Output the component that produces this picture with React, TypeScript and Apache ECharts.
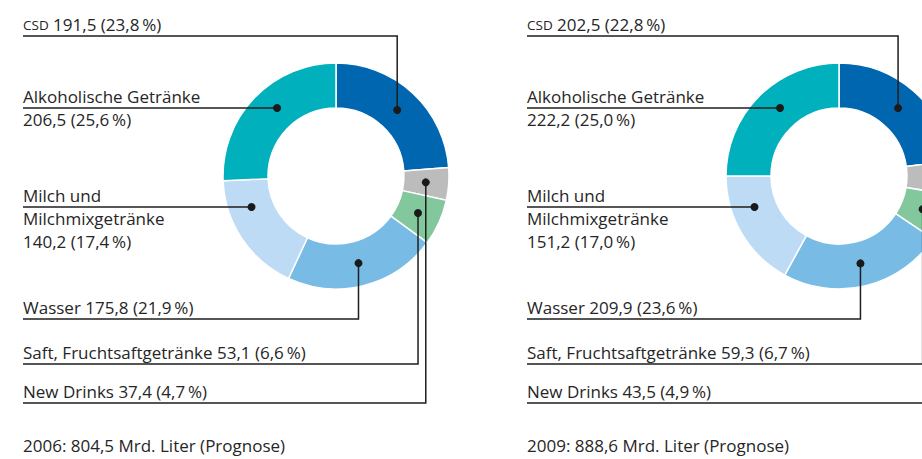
import React, { useEffect, useRef } from 'react';
import * as echarts from 'echarts';

// Slice order: clockwise from 12 o'clock
const categories = ['CSD', 'New Drinks', 'Saft, Fruchtsaftgetränke', 'Wasser', 'Milch und Milchmixgetränke', 'Alkoholische Getränke'];
const labelNames = ['{sc|CSD} ', 'New Drinks ', 'Saft, Fruchtsaftgetränke ', 'Wasser ', 'Milch und\nMilchmixgetränke\n', 'Alkoholische Getränke\n'];
const values2006 = [191.5, 37.4, 53.1, 175.8, 140.2, 206.5];
const percents2006 = [23.8, 4.7, 6.6, 21.9, 17.4, 25.6];
const values2009 = [202.5, 43.5, 59.3, 209.9, 151.2, 222.2];
const percents2009 = [22.8, 4.9, 6.7, 23.6, 17.0, 25.0];
const totals = ['2006: 804,5 Mrd. Liter (Prognose)', '2009: 888,6 Mrd. Liter (Prognose)'];
const colors = ['#0066b0', '#bcbcbc', '#82c89c', '#78bce6', '#bddbf4', '#00b0bd'];

// layout
const FONT = '"Open Sans", sans-serif';
const TEXT_COLOR = '#262626';
const LINE_COLOR = '#1e1e1e';
const rowY = [36, 403, 364, 319, 207, 108];
const centers: [number, number][] = [[336, 176], [839, 176]];
const textX = [23, 527];
const R0 = 68;
const R1 = 113;
const RDOT = 90;
const LINE_H = 23;
const FS = 17;

const fmt = (n: number) => n.toFixed(1).replace('.', ',');

function dotPos(vals: number[], idx: number, c: [number, number]) {
  const total = vals.reduce((a, b) => a + b, 0);
  let cum = 0;
  for (let i = 0; i < idx; i++) cum += vals[i];
  const theta = ((cum + vals[idx] / 2) / total) * Math.PI * 2;
  if (theta > Math.PI) {
    // left-hand slices: dot sits on the label's own row
    const dy = rowY[idx] - c[1];
    const dx = -Math.sqrt(Math.max(RDOT * RDOT - dy * dy, 0));
    return { x: c[0] + dx, y: rowY[idx], left: true };
  }
  return { x: c[0] + RDOT * Math.sin(theta), y: c[1] - RDOT * Math.cos(theta), left: false };
}

export default function App() {
  const ref = useRef<HTMLDivElement>(null);
  useEffect(() => {
    document.body.style.margin = '0';
    if (!ref.current) return;
    const chart = echarts.init(ref.current, undefined, { renderer: 'svg' });
    const sets = [
      { vals: values2006, pcts: percents2006 },
      { vals: values2009, pcts: percents2009 },
    ];
    const series = sets.map((s, si) => ({
      type: 'pie',
      center: centers[si],
      radius: [R0, R1],
      startAngle: 90,
      clockwise: true,
      avoidLabelOverlap: false,
      silent: true,
      itemStyle: { borderColor: '#ffffff', borderWidth: 1.5 },
      label: {
        show: true,
        position: 'outside',
        fontFamily: FONT,
        fontSize: FS,
        lineHeight: LINE_H,
        color: TEXT_COLOR,
        formatter: (p: any) => labelNames[p.dataIndex] + fmt(s.vals[p.dataIndex]) + ' (' + fmt(s.pcts[p.dataIndex]) + '\u2009%)',
        rich: {
          sc: { fontFamily: FONT, fontSize: 13.5, lineHeight: LINE_H, color: TEXT_COLOR },
        },
      },
      labelLine: { show: false },
      labelLayout: (p: any) => {
        const idx = p.dataIndex;
        const y = rowY[idx];
        return { x: textX[si], y: y - LINE_H, align: 'left', verticalAlign: 'top', hideOverlap: false };
      },
      data: categories.map((name, i) => ({ name, value: s.vals[i], itemStyle: { color: colors[i] } })),
    }));

    const guides: any[] = [];
    sets.forEach((s, si) => {
      s.vals.forEach((_, i) => {
        const d = dotPos(s.vals, i, centers[si]);
        const y = rowY[i];
        const pts = d.left
          ? [[d.x, d.y], [textX[si], y]]
          : [[d.x, d.y], [d.x, y], [textX[si], y]];
        guides.push({ type: 'polyline', z: 100, shape: { points: pts }, style: { stroke: LINE_COLOR, lineWidth: 1.5, fill: null } });
        guides.push({ type: 'circle', z: 101, shape: { cx: d.x, cy: d.y, r: 4 }, style: { fill: '#1a1a1a' } });
      });
    });

    chart.setOption({
      animation: false,
      title: totals.map((t, i) => ({
        text: t,
        left: textX[i],
        top: 437,
        padding: 0,
        textStyle: { fontFamily: FONT, fontSize: FS, fontWeight: 'normal', color: TEXT_COLOR },
      })),
      series,
      graphic: guides,
    });
    return () => chart.dispose();
  }, []);
  return <div ref={ref} style={{ width: 922, height: 459 }} />;
}
